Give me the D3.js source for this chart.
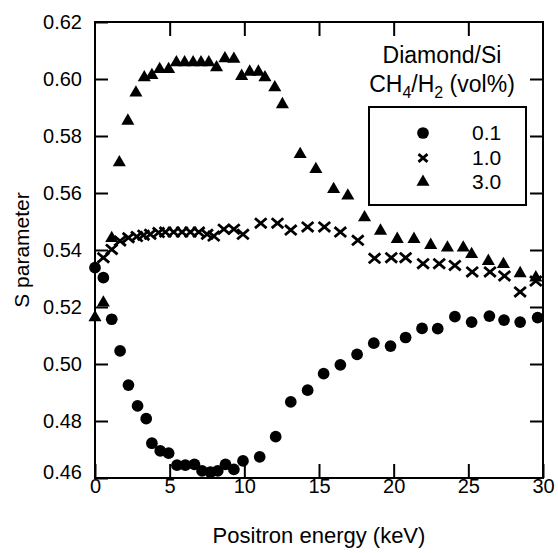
<!DOCTYPE html>
<html>
<head>
<meta charset="utf-8">
<script src="https://cdn.jsdelivr.net/npm/d3@7"></script>
<style>
  body { margin: 0; background: #fff; }
  text { font-family: "Liberation Sans", Arial, sans-serif; fill: #000; }
</style>
</head>
<body>
<div id="chart"></div>
<script>
// S parameter vs positron energy, three CH4/H2 ratios
const energyLow = [0, 0.56, 1.12, 1.68, 2.24, 2.85, 3.43, 3.81, 4.37, 4.93, 5.49, 6.05, 6.66, 7.17, 7.73, 8.22, 8.74, 9.3, 9.91, 11.03, 12.1, 13.11, 14.24, 15.31, 16.43, 17.55, 18.67, 19.79, 20.8, 21.9, 22.95, 24.1, 25.22, 26.41, 27.39, 28.47, 29.64];
const sLow = [0.5338, 0.5303, 0.5157, 0.5046, 0.4926, 0.4853, 0.4808, 0.4722, 0.4695, 0.4687, 0.4645, 0.4645, 0.4648, 0.4625, 0.4621, 0.4625, 0.4648, 0.4630, 0.4660, 0.4674, 0.4745, 0.4867, 0.4908, 0.4966, 0.4997, 0.5034, 0.5073, 0.5063, 0.5093, 0.5125, 0.5124, 0.5166, 0.5147, 0.5168, 0.5154, 0.5147, 0.5163];

const energyMid = [0.56, 1.12, 1.68, 2.24, 2.8, 3.25, 3.7, 4.26, 4.71, 5.27, 5.83, 6.39, 6.95, 7.51, 7.95, 8.63, 9.3, 9.91, 11.1, 12.22, 13.11, 14.24, 15.36, 16.43, 17.6, 18.72, 19.84, 20.8, 21.97, 23.05, 24.1, 25.26, 26.45, 27.42, 28.47, 29.52];
const sMid = [0.5373, 0.5402, 0.5432, 0.5443, 0.5447, 0.5452, 0.5455, 0.5461, 0.5463, 0.5463, 0.5463, 0.5463, 0.5463, 0.5455, 0.5449, 0.5473, 0.5473, 0.5455, 0.5494, 0.5494, 0.5470, 0.5481, 0.5481, 0.5463, 0.5434, 0.5371, 0.5373, 0.5373, 0.5352, 0.5352, 0.5346, 0.5323, 0.5323, 0.5309, 0.5253, 0.5291];

const energyHigh = [0, 0.56, 1.12, 1.63, 2.2, 2.74, 3.3, 3.81, 4.33, 4.93, 5.45, 6.0, 6.57, 7.1, 7.62, 8.14, 8.7, 9.3, 9.82, 10.36, 10.94, 11.38, 12.04, 12.55, 13.74, 14.79, 15.98, 16.93, 18.05, 19.12, 20.24, 21.36, 22.48, 23.6, 24.66, 25.22, 26.34, 27.35, 28.47, 29.52];
const sHigh = [0.5163, 0.5215, 0.5441, 0.5707, 0.5853, 0.5952, 0.6005, 0.6013, 0.6034, 0.6034, 0.6058, 0.6058, 0.6058, 0.6058, 0.6058, 0.6040, 0.6072, 0.6070, 0.6010, 0.6025, 0.6025, 0.6005, 0.5970, 0.5911, 0.5736, 0.5683, 0.5613, 0.5590, 0.5514, 0.5467, 0.5438, 0.5438, 0.5417, 0.5408, 0.5408, 0.5385, 0.5361, 0.5350, 0.5318, 0.5303];

const legendLabels = ["0.1", "1.0", "3.0"];
const xTicks = [0, 5, 10, 15, 20, 25, 30];
const yTicks = [0.46, 0.48, 0.50, 0.52, 0.54, 0.56, 0.58, 0.60, 0.62];

const width = 558, height = 553;
const margin = { top: 22, right: 15, bottom: 75, left: 95 };
const innerW = width - margin.left - margin.right;
const innerH = height - margin.top - margin.bottom;

const svg = d3.select("#chart")
    .append("svg")
    .attr("width", width)
    .attr("height", height);

const g = svg.append("g")
    .attr("transform", `translate(${margin.left},${margin.top})`);

const x = d3.scaleLinear().domain([0, 30]).range([0, innerW]);
const y = d3.scaleLinear().domain([0.46, 0.62]).range([innerH, 0]);

// axes with inward ticks on all four sides
function styleAxis(sel) {
    sel.select(".domain").remove();
    sel.selectAll(".tick line").attr("stroke", "#000").attr("stroke-width", 2);
    sel.selectAll("text").style("font-size", "20px");
}

g.append("g")
    .attr("transform", `translate(0,${innerH})`)
    .call(d3.axisBottom(x).tickValues(xTicks).tickSize(-14).tickPadding(1))
    .call(styleAxis);

g.append("g")
    .call(d3.axisTop(x).tickValues(xTicks.slice(1, -1)).tickSize(-14).tickFormat(""))
    .call(styleAxis);

const yAxis = g.append("g")
    .call(d3.axisLeft(y).tickValues(yTicks).tickSize(-13).tickPadding(13).tickFormat(d3.format(".2f")))
    .call(styleAxis);
// bottom label sits a little higher, clear of the x labels
yAxis.selectAll(".tick text").filter(d => d === 0.46).attr("y", -6);

g.append("g")
    .attr("transform", `translate(${innerW},0)`)
    .call(d3.axisRight(y).tickValues(yTicks.slice(1, -1)).tickSize(-13).tickFormat(""))
    .call(styleAxis);

g.append("rect")
    .attr("width", innerW)
    .attr("height", innerH)
    .attr("fill", "none")
    .attr("stroke", "#000")
    .attr("stroke-width", 2);

// axis titles
svg.append("text")
    .attr("x", margin.left + innerW / 2)
    .attr("y", 543)
    .attr("text-anchor", "middle")
    .style("font-size", "22px")
    .text("Positron energy (keV)");

svg.append("text")
    .attr("transform", `translate(29,${margin.top + innerH / 2}) rotate(-90)`)
    .attr("text-anchor", "middle")
    .style("font-size", "21px")
    .text("S parameter");

// markers
const circle = d3.symbol().type(d3.symbolCircle).size(108);
const tri = d3.symbol().type(d3.symbolTriangle).size(74);

function drawCross(sel, s) {
    sel.append("path")
        .attr("d", `M${-s},${-s * 0.85}L${s},${s * 0.85}M${-s},${s * 0.85}L${s},${-s * 0.85}`)
        .attr("stroke", "#000")
        .attr("stroke-width", 2.8)
        .attr("fill", "none");
}

g.selectAll(".pt-low")
    .data(d3.zip(energyLow, sLow))
    .enter().append("path")
    .attr("class", "pt-low")
    .attr("d", circle)
    .attr("fill", "#000")
    .attr("transform", d => `translate(${x(d[0])},${y(d[1])})`);

g.selectAll(".pt-mid")
    .data(d3.zip(energyMid, sMid))
    .enter().append("g")
    .attr("class", "pt-mid")
    .attr("transform", d => `translate(${x(d[0])},${y(d[1])})`)
    .each(function () { drawCross(d3.select(this), 5.8); });

g.selectAll(".pt-high")
    .data(d3.zip(energyHigh, sHigh))
    .enter().append("path")
    .attr("class", "pt-high")
    .attr("d", tri)
    .attr("fill", "#000")
    .attr("transform", d => `translate(${x(d[0])},${y(d[1])})`);

// legend
const lg = svg.append("g");

lg.append("text")
    .attr("x", 442).attr("y", 63)
    .attr("text-anchor", "middle")
    .style("font-size", "23px")
    .text("Diamond/Si");

const t2 = lg.append("text")
    .attr("x", 442).attr("y", 92)
    .attr("text-anchor", "middle")
    .style("font-size", "23px");
t2.append("tspan").text("CH");
t2.append("tspan").attr("dy", 6).style("font-size", "16px").text("4");
t2.append("tspan").attr("dy", -6).text("/H");
t2.append("tspan").attr("dy", 6).style("font-size", "16px").text("2");
t2.append("tspan").attr("dy", -6).text(" (vol%)");

lg.append("rect")
    .attr("x", 369).attr("y", 107)
    .attr("width", 157).attr("height", 98)
    .attr("fill", "#fff")
    .attr("stroke", "#000")
    .attr("stroke-width", 2);

const rowY = [133, 158, 182];
lg.append("path").attr("d", circle).attr("fill", "#000")
    .attr("transform", `translate(423,${rowY[0]})`);
drawCross(lg.append("g").attr("transform", `translate(423,${rowY[1]})`), 4.5);
lg.append("path").attr("d", tri).attr("fill", "#000")
    .attr("transform", `translate(423,${rowY[2]})`);

lg.selectAll(".lt")
    .data(legendLabels)
    .enter().append("text")
    .attr("class", "lt")
    .attr("x", 472)
    .attr("y", (d, i) => rowY[i] + 7)
    .style("font-size", "21px")
    .text(d => d);
</script>
</body>
</html>
